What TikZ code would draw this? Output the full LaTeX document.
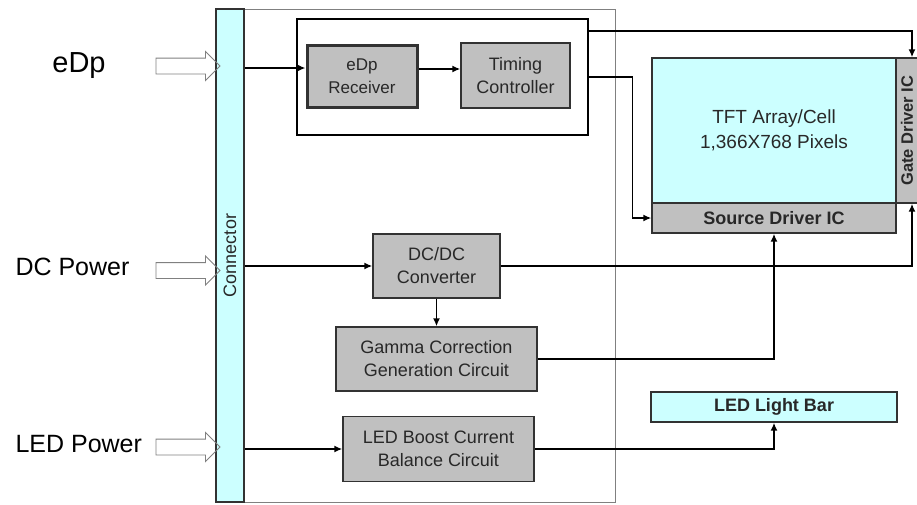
\documentclass[tikz,border=0pt]{standalone}
\usepackage{fontspec}
\setmainfont{Liberation Sans}
\usepackage{tikz}
\usetikzlibrary{positioning, arrows.meta, shapes.arrows, calc}
\definecolor{panelcyan}{RGB}{204, 255, 255}
\definecolor{blockgray}{RGB}{192, 192, 192}
\definecolor{edgegray}{RGB}{50, 50, 50}
\definecolor{textgray}{RGB}{40, 40, 40}

\tikzset{
  blk/.style={draw=edgegray, fill=blockgray, line width=1.3pt, inner sep=0pt,
              align=center, text=textgray, font=\fontsize{18}{23}\selectfont},
  sig/.style={line width=1.7pt, -{Latex[length=8pt, width=7pt]}},
  inarrow/.style={single arrow, draw=gray, line width=0.9pt, inner sep=0pt,
                  minimum height=64pt, minimum width=28pt,
                  single arrow head extend=6.5pt, single arrow head indent=0pt},
  inlabel/.style={anchor=base west, font=\fontsize{25}{25}\selectfont}
}

\begin{document}
\begin{tikzpicture}[x=1pt, y=-1pt]
        \useasboundingbox (0,0) rectangle (917,504);
        % board outline
        \draw[gray, line width=1pt] (230,9) rectangle (615,502);
        \node[draw=edgegray, fill=panelcyan, line width=1.3pt, rotate=90,
              minimum width=493pt, minimum height=28pt, inner sep=0pt,
              font=\fontsize{18}{18}\selectfont, text=textgray]
              (cn) at (230,255.5) {Connector};
        % inputs
        \node[inarrow] (inEdp) at (184,66) {\rule{0pt}{15pt}};
        \node[inarrow] (inDc) at (184,270.5) {\rule{0pt}{15pt}};
        \node[inarrow] (inLed) at (184,447) {\rule{0pt}{15pt}};
        \node[font=\fontsize{29}{29}\selectfont] (lbEdp) at (79,66) {eDp};
        \node[inlabel] (lbDc) at (12,275) {DC Power};
        \node[inlabel] (lbLed) at (12,452) {LED Power};
        % tcon group
        \node[draw, line width=1.2pt, fill=white, minimum width=291pt,
              minimum height=116pt, inner sep=0pt] (grp) at (442.5,77) {};
        \node[blk, line width=3pt, minimum width=110pt, minimum height=62pt,
              font=\fontsize{17}{23}\selectfont]
              (rx) at (362,76) {eDp\\Receiver};
        \node[blk, minimum width=109pt, minimum height=65pt]
              (tcon) at (515.5,75.5) {Timing\\Controller};
        % panel
        \node[draw=edgegray, fill=panelcyan, line width=1.3pt, minimum width=244pt,
              minimum height=145pt, align=center, text=textgray,
              font=\fontsize{19}{25}\selectfont]
              (tft) at (774,130.5) {TFT Array/Cell\\1,366X768 Pixels};
        \node[blk, minimum width=244pt, minimum height=30pt, font=\bfseries\fontsize{18}{18}\selectfont]
              (src) at (774,218) {Source Driver IC};
        \node[blk, rotate=90, minimum width=145pt, minimum height=22pt,
              font=\bfseries\fontsize{16.5}{17}\selectfont]
              (gate) at (907,130.5) {Gate Driver IC};
        % power blocks
        \node[blk, minimum width=127pt, minimum height=64pt]
              (dcdc) at (436.5,266) {DC/DC\\Converter};
        \node[blk, minimum width=201pt, minimum height=64pt]
              (gamma) at (436.5,359) {Gamma Correction\\Generation Circuit};
        \node[blk, minimum width=191pt, minimum height=65pt]
              (ledb) at (438.5,449) {LED Boost Current\\Balance Circuit};
        \node[blk, fill=panelcyan, minimum width=246pt, minimum height=30pt,
              font=\bfseries\fontsize{18}{18}\selectfont]
              (bar) at (774,407) {LED Light Bar};
        % signals
        \coordinate (rxin) at ([yshift=8pt]rx.west);
        \coordinate (rxout) at ([yshift=7pt]rx.east);
        \draw[sig] (cn.south |- rxin) -- (rxin);
        \draw[sig] (rxout) -- (tcon.west |- rxout);
        \draw[sig] ([yshift=46pt]grp.east) -| ([xshift=5pt]gate.east);
        \draw[sig] (grp.east) -- ++(44,0) |- (src.west);
        \draw[sig] (cn.south |- dcdc.west) -- (dcdc.west);
        \draw[sig] (dcdc.south) -- (gamma.north);
        \draw[sig] (dcdc.east) -| ([xshift=5pt]gate.west);
        \draw[sig] (gamma.east) -| (src.south);
        \draw[sig] (cn.south |- ledb.west) -- (ledb.west);
        \draw[sig] (ledb.east) -| (bar.south);
      \end{tikzpicture}
\end{document}
